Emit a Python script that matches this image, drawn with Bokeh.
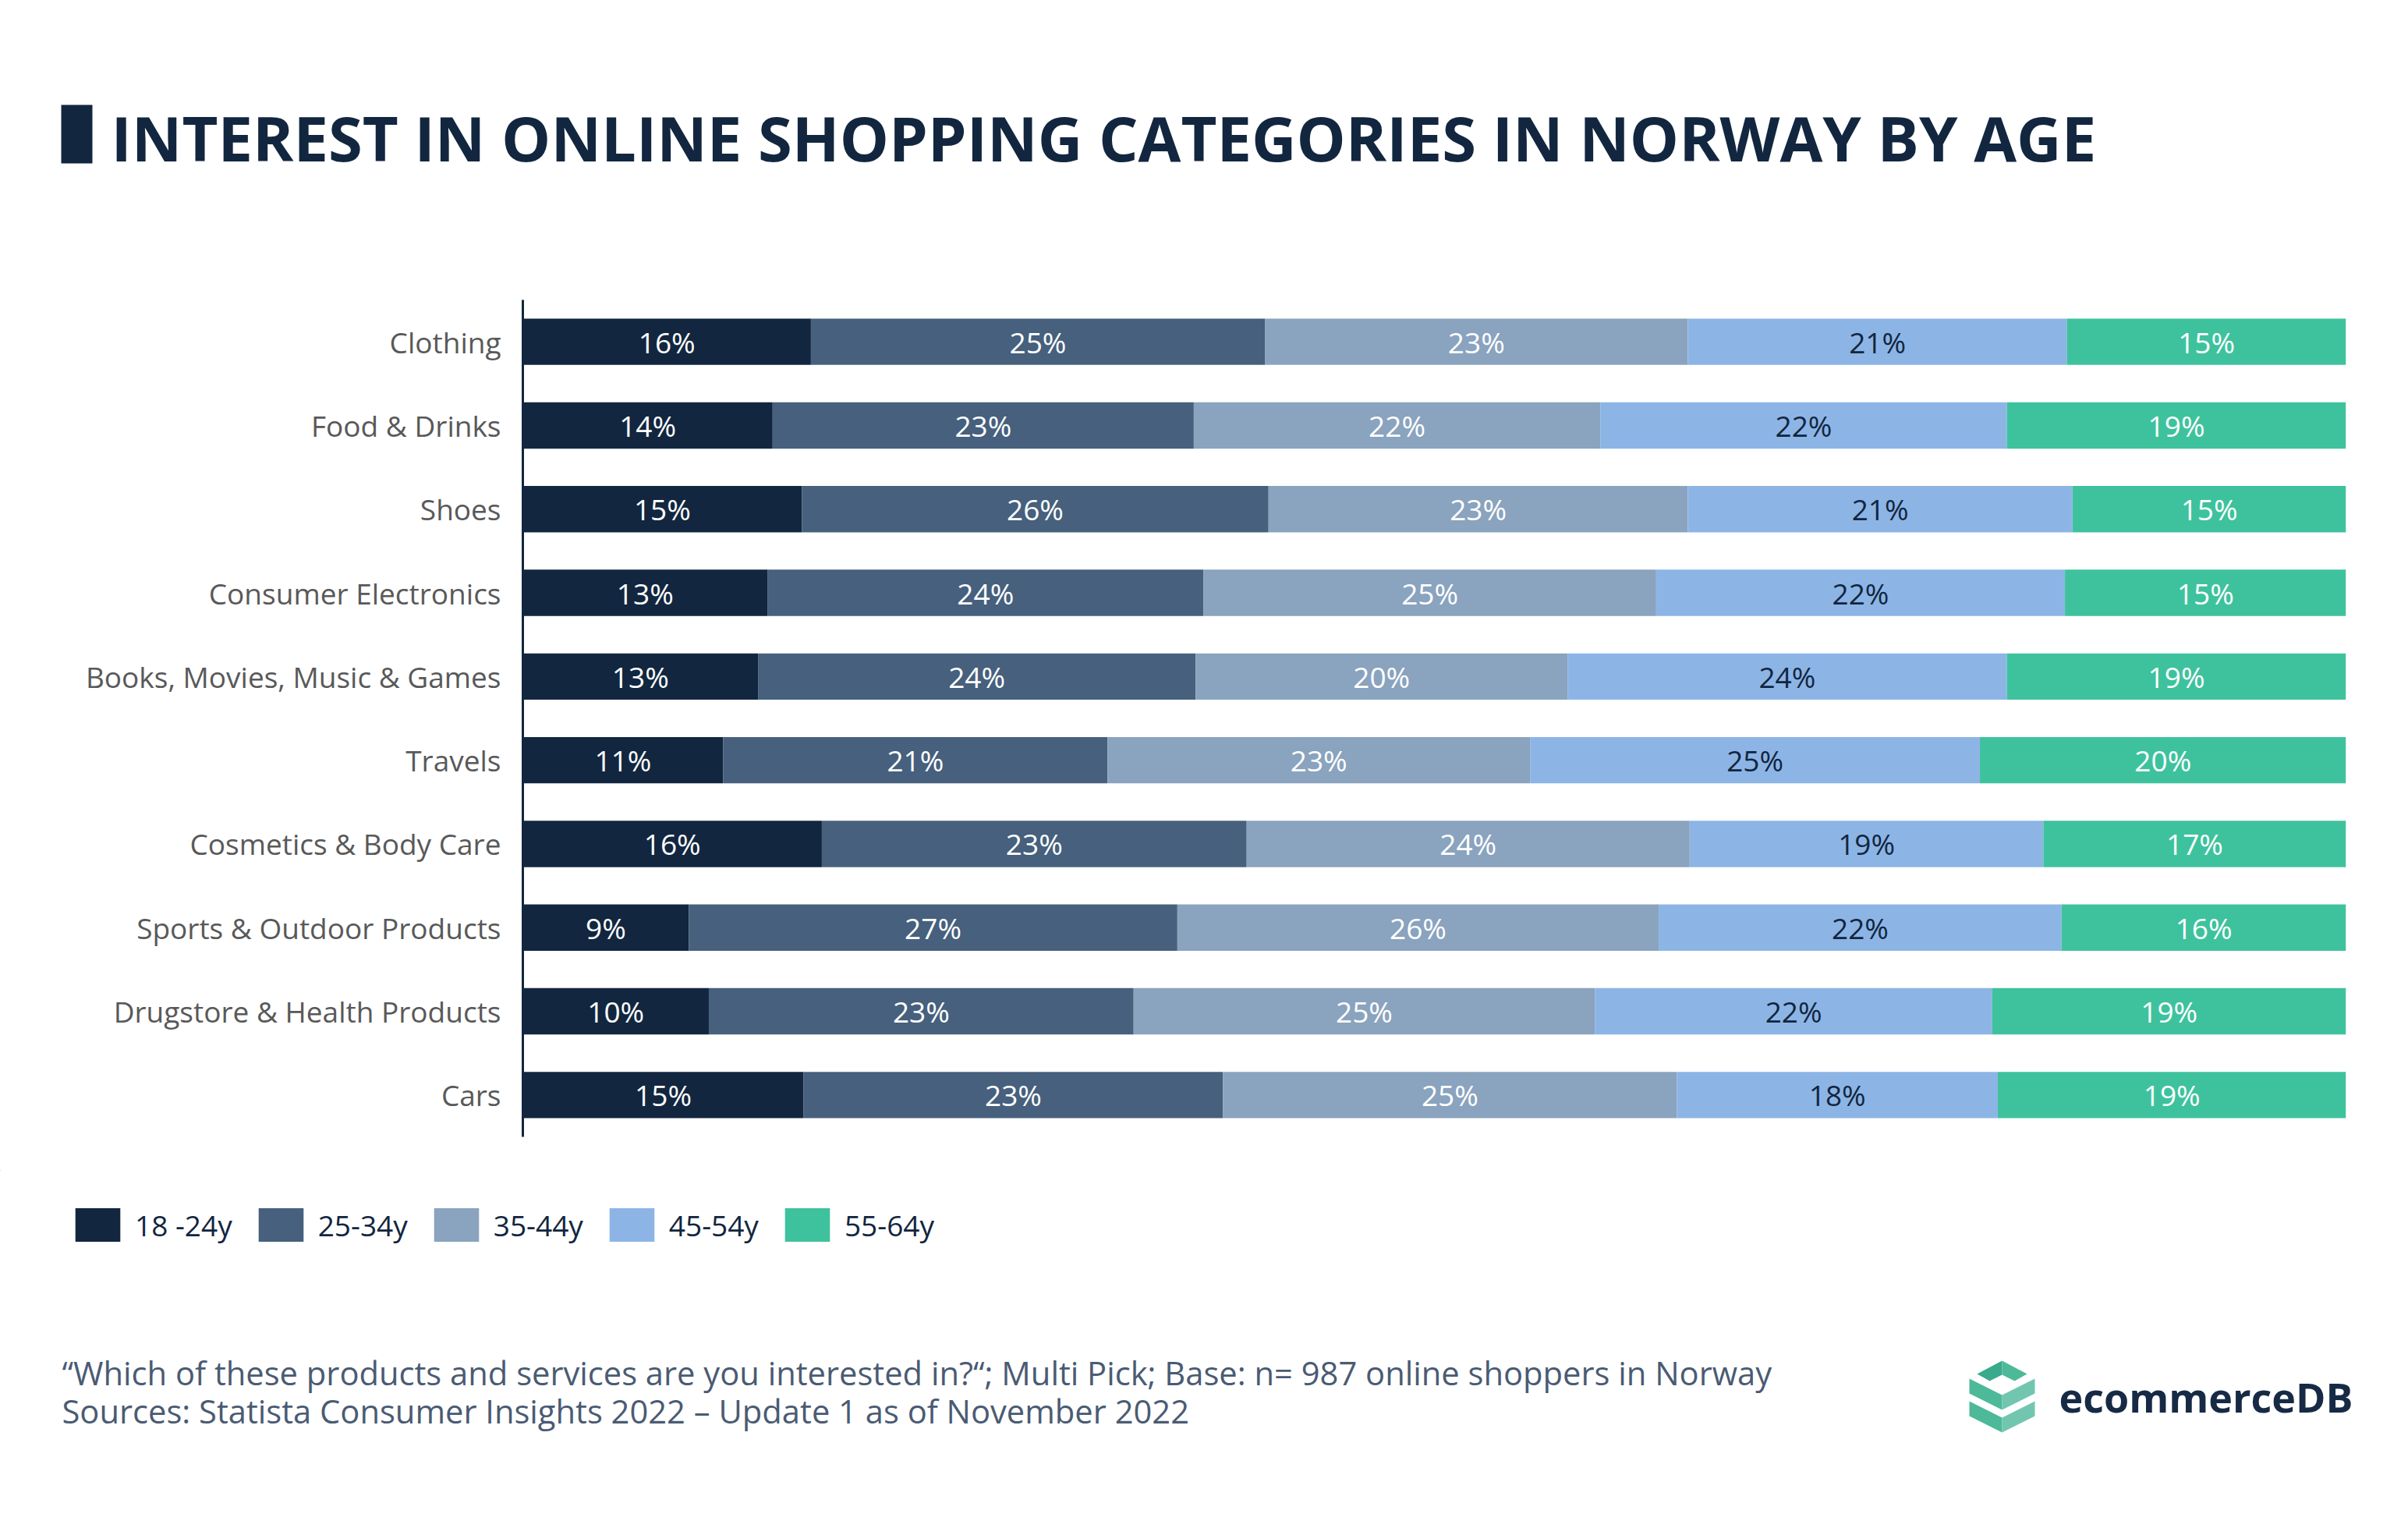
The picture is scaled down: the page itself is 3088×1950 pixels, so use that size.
from bokeh.plotting import figure
from bokeh.models import (ColumnDataSource, FactorRange, Range1d, Label, Legend,
                          LegendItem, BoxAnnotation, PolyAnnotation)
from bokeh.core.properties import value
from bokeh.embed import file_html
from bokeh.resources import INLINE

# ---------------- data ----------------
categories = ["Clothing", "Food & Drinks", "Shoes", "Consumer Electronics",
              "Books, Movies, Music & Games", "Travels", "Cosmetics & Body Care",
              "Sports & Outdoor Products", "Drugstore & Health Products", "Cars"]
age_groups = ["18 -24y", "25-34y", "35-44y", "45-54y", "55-64y"]
share_18_24 = [15.8, 13.7, 15.3, 13.4, 12.9, 11.0, 16.4, 9.1, 10.2, 15.4]
share_25_34 = [24.9, 23.1, 25.6, 23.9, 24.0, 21.1, 23.3, 26.8, 23.3, 23.0]
share_35_44 = [23.2, 22.3, 23.0, 24.8, 20.4, 23.2, 24.3, 26.4, 25.3, 24.9]
share_45_54 = [20.8, 22.3, 21.1, 22.4, 24.1, 24.7, 19.4, 22.1, 21.8, 17.6]
share_55_64 = [15.3, 18.6, 15.0, 15.4, 18.6, 20.1, 16.6, 15.6, 19.4, 19.1]

series = [share_18_24, share_25_34, share_35_44, share_45_54, share_55_64]
colors = ["#12263F", "#46607D", "#8AA3BE", "#8CB5E6", "#3EC29D"]
label_colors = ["#FFFFFF", "#FFFFFF", "#FFFFFF", "#12263F", "#FFFFFF"]
keys = ["g1", "g2", "g3", "g4", "g5"]

title_text = "INTEREST IN ONLINE SHOPPING CATEGORIES IN NORWAY BY AGE"
footer_lines = ["\u201cWhich of these products and services are you interested in?\u201c; "
                "Multi Pick; Base: n= 987 online shoppers in Norway",
                "Sources: Statista Consumer Insights 2022 \u2013 Update 1 as of November 2022"]

# ---------------- layout constants (page pixels) ----------------
W = 3088
TOP_H = 376            # title band
MAIN_H = 1124          # chart band (page y 376 .. 1500)
BOT_H = 448            # legend / footer band (page y 1500 .. 1948)
FL, FR, FT, FB = 670, 3008, 384, 1457   # chart frame edges on the page
BOT0 = TOP_H + MAIN_H


def plain_fig(h):
    f = figure(width=W, height=h, output_backend="svg", toolbar_location=None,
               x_range=Range1d(0, W), y_range=Range1d(h, 0),
               min_border=0, min_border_left=0, min_border_right=0,
               min_border_top=0, min_border_bottom=0)
    f.axis.visible = False
    f.grid.visible = False
    f.outline_line_color = None
    f.background_fill_color = "white"
    f.border_fill_color = "white"
    return f


# ---------------- title band ----------------
ft = plain_fig(TOP_H)
ft.add_layout(BoxAnnotation(left=78, right=118, top=134, bottom=209,
                            fill_color="#12263F", fill_alpha=1, line_color=None))
ft.add_layout(Label(x=142, y=175, text=title_text,
                    text_font="Open Sans", text_font_style="bold",
                    text_font_size="79.5px", text_color="#12263F",
                    text_baseline="alphabetic"))

# ---------------- chart ----------------
totals = [sum(s[i] for s in series) for i in range(len(categories))]
data = {"cat": categories}
for k, s in zip(keys, series):
    data[k] = [v / t * 100 for v, t in zip(s, totals)]
source = ColumnDataSource(data)

lab = {"cat": [], "mid": [], "text": [], "color": []}
for i, c in enumerate(categories):
    acc = 0.0
    for j, s in enumerate(series):
        w = s[i] / totals[i] * 100
        lab["cat"].append(c)
        lab["mid"].append(acc + w / 2)
        lab["text"].append(f"{int(s[i] + 0.5)}%")
        lab["color"].append(label_colors[j])
        acc += w
lab_source = ColumnDataSource(lab)

p = figure(width=W, height=MAIN_H, output_backend="svg", toolbar_location=None,
           y_range=FactorRange(factors=list(reversed(categories))),
           x_range=Range1d(0, 100),
           min_border_left=FL, min_border_right=W - FR,
           min_border_top=FT - TOP_H, min_border_bottom=BOT0 - FB)
p.outline_line_color = None
p.grid.visible = False
p.xaxis.visible = False
p.background_fill_color = "white"
p.border_fill_color = "white"

p.hbar_stack(keys, y="cat", height=0.554, color=colors, line_color=None, source=source)

p.text(x="mid", y="cat", text="text", text_color="color", source=lab_source,
       text_align="center", text_baseline="middle",
       text_font=value("Open Sans"), text_font_size="37px")

ax = p.yaxis[0]
ax.axis_line_color = "#12263F"
ax.axis_line_width = 3
ax.major_tick_line_color = None
ax.minor_tick_line_color = None
ax.major_label_text_font = "Open Sans"
ax.major_label_text_font_size = "37px"
ax.major_label_text_color = "#595959"
ax.major_label_standoff = 22

# ---------------- legend / footer band ----------------
fb = plain_fig(BOT_H)
# one off-canvas bar per age group, used only as legend swatches
legend_renderers = [fb.hbar(y=[-500], left=[-300], right=[-200], height=1, color=c,
                            line_color=None) for c in colors]
legend = Legend(items=[LegendItem(label=a, renderers=[r])
                       for a, r in zip(age_groups, legend_renderers)],
                orientation="horizontal", location=(89, BOT_H - (1597 - BOT0)),
                glyph_width=72, glyph_height=54, label_standoff=12, spacing=26,
                padding=0, margin=0, border_line_color=None,
                background_fill_alpha=0,
                label_text_font="Open Sans", label_text_font_size="37px",
                label_text_color="#12263F")
fb.add_layout(legend, "center")

for line, base in zip(footer_lines, [1759, 1808]):
    fb.add_layout(Label(x=79, y=base - BOT0, text=line,
                        text_font="Open Sans", text_font_size="41.7px",
                        text_color="#4A5B73", text_baseline="alphabetic"))

fb.add_layout(Label(x=2640, y=1790 - BOT0, text="ecommerceDB",
                    text_font="Open Sans", text_font_style="bold",
                    text_font_size="52px", text_color="#172A45",
                    text_baseline="alphabetic"))

# logo icon (decoration), page coordinates
LOGO_L, LOGO_C, LOGO_R = 2525, 2567, 2609
logo_parts = [
    ([2535, LOGO_C, LOGO_C, 2551], [1761, 1744, 1762, 1770], "#3AAA8C"),
    ([LOGO_C, 2599, 2583, LOGO_C], [1744, 1761, 1770, 1762], "#4DB998"),
    ([LOGO_L, LOGO_C, LOGO_C, LOGO_L], [1767, 1788, 1807, 1786], "#4DB998"),
    ([LOGO_C, LOGO_R, LOGO_R, LOGO_C], [1788, 1767, 1786, 1807], "#72C6B0"),
    ([LOGO_L, LOGO_C, LOGO_C, LOGO_L], [1796, 1817, 1836, 1815], "#4DB998"),
    ([LOGO_C, LOGO_R, LOGO_R, LOGO_C], [1817, 1796, 1815, 1836], "#72C6B0"),
]
for xs, ys, col in logo_parts:
    fb.add_layout(PolyAnnotation(xs=xs, ys=[v - BOT0 for v in ys],
                                 fill_color=col, fill_alpha=1, line_color=None))

# three independent roots stacked on the page (no frame alignment between them)
open("out.html", "w").write(file_html([ft, p, fb], INLINE))
